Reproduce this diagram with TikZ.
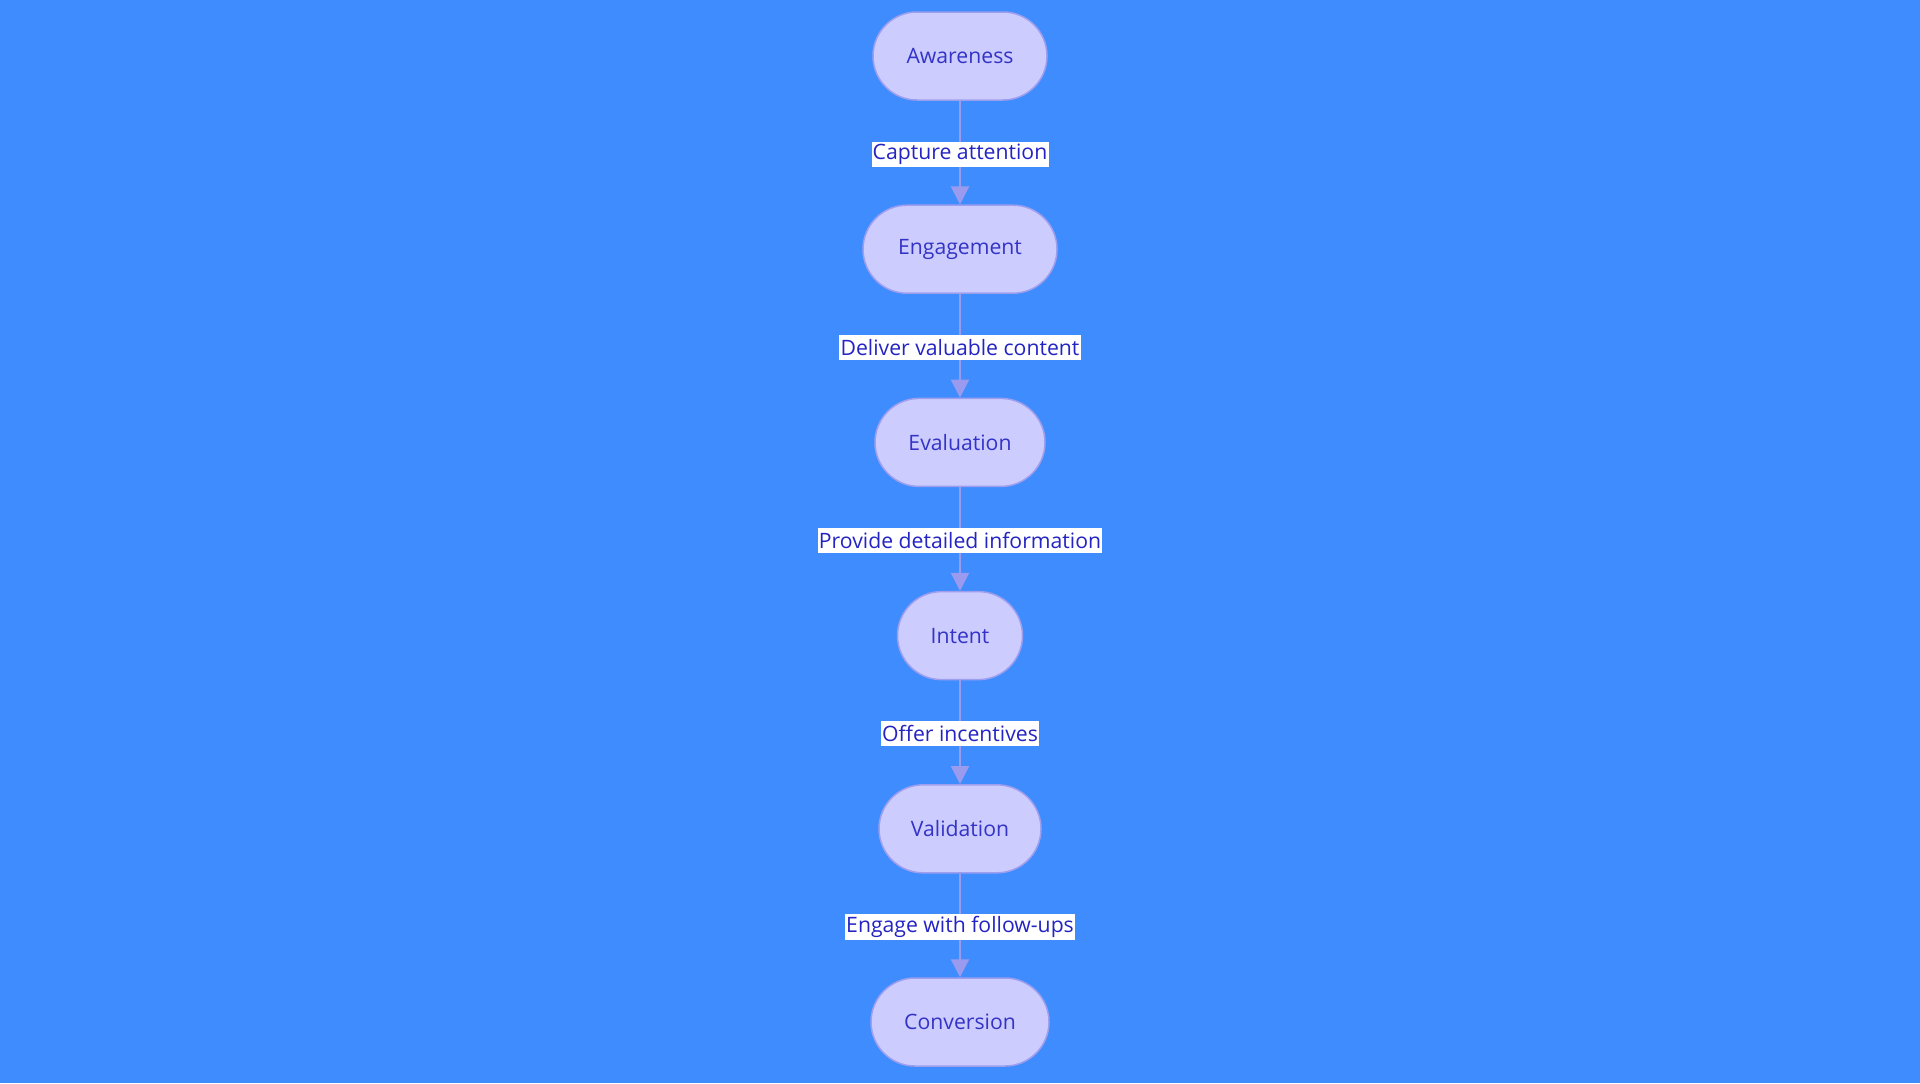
\documentclass[tikz,border=0pt]{standalone}
\usepackage{fontspec}
\setmainfont{Open Sans}
\usetikzlibrary{arrows.meta}
\definecolor{bg}{HTML}{3F8CFF}
\definecolor{nodefill}{HTML}{CCCCFF}
\definecolor{nodeline}{HTML}{9E9EEE}
\definecolor{nodetext}{HTML}{3333C6}
\definecolor{edgecol}{HTML}{9A9AEE}
\definecolor{labeltext}{HTML}{2424C4}
\tikzset{
  stage/.style={draw=nodeline, line width=0.75pt, fill=nodefill, rounded corners=22pt,
    minimum height=44pt, text=nodetext, font=\fontsize{10.6pt}{12pt}\selectfont, inner sep=0pt},
  flow/.style={draw=edgecol, line width=1.1pt, -{Triangle[width=9pt,length=9pt]}},
  elabel/.style={fill=white, text=labeltext, font=\fontsize{10.6pt}{12pt}\selectfont,
    inner xsep=0.6pt, inner ysep=0pt, minimum height=12.6pt, yshift=-0.8pt}
}
\begin{document}
\begin{tikzpicture}[x=0.5pt,y=-0.5pt]
\fill[bg] (0,0) rectangle (1920,1083);
\useasboundingbox (0,0) rectangle (1920,1083);
\node[stage, minimum width=87pt] (a) at (960,56) {Awareness};
\node[stage, minimum width=97pt] (b) at (960,249.2) {Engagement};
\node[stage, minimum width=85pt] (c) at (960,442.4) {Evaluation};
\node[stage, minimum width=62.5pt] (d) at (960,635.6) {Intent};
\node[stage, minimum width=81pt] (e) at (960,828.8) {Validation};
\node[stage, minimum width=89pt] (f) at (960,1022) {Conversion};
\draw[flow] (a) -- node[elabel] {Capture attention} (b);
\draw[flow] (b) -- node[elabel] {Deliver valuable content} (c);
\draw[flow] (c) -- node[elabel] {Provide detailed information} (d);
\draw[flow] (d) -- node[elabel] {Offer incentives} (e);
\draw[flow] (e) -- node[elabel] {Engage with follow-ups} (f);
\end{tikzpicture}
\end{document}
